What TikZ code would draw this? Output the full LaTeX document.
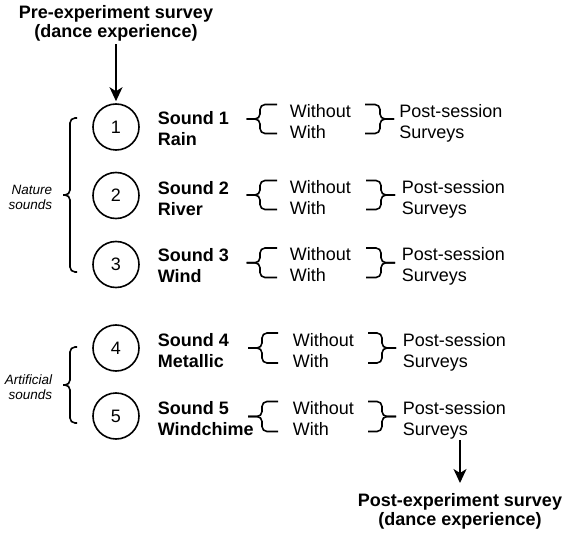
\documentclass[tikz,border=0pt]{standalone}
\usepackage{fontspec}
\setmainfont{Liberation Sans}
\usetikzlibrary{arrows.meta}

% curly bracket: tip x, body x, arm x, top y, bottom y
\newcommand{\curly}[5]{%
  \draw[brk] (#3,#4) -- (#2,#4) -- (#2,{(#4+#5)/2}) -- (#1,{(#4+#5)/2});
  \draw[brk] (#3,#5) -- (#2,#5) -- (#2,{(#4+#5)/2}) -- (#1,{(#4+#5)/2});
}

\begin{document}
\begin{tikzpicture}[x=0.5pt, y=-0.5pt, line width=0.8pt,
  every node/.style={inner sep=0pt},
  txt/.style={font=\fontsize{9}{10.5}\selectfont, align=left, anchor=north west},
  snd/.style={font=\fontsize{9}{10.5}\selectfont\bfseries, align=left, anchor=north west},
  ttl/.style={font=\fontsize{9}{9.5}\selectfont\bfseries, align=center, anchor=north},
  grp/.style={font=\fontsize{6.75}{7.5}\selectfont\itshape, align=right, anchor=east},
  num/.style={draw, circle, minimum size=23pt, font=\fontsize{9}{10.5}\selectfont},
  brk/.style={rounded corners=2.5pt},
  arr/.style={-{Stealth[length=7pt,width=6.5pt,inset=2pt]}}]
  \useasboundingbox (0,0) rectangle (567,534);

  \node[ttl] (pre) at (116,5) {Pre-experiment survey\\(dance experience)};
  \node[ttl] (post) at (460,493) {Post-experiment survey\\(dance experience)};

  \node[num] (c1) at (116,127) {1};
  \node[num] (c2) at (116,195.5) {2};
  \node[num] (c3) at (116,264.5) {3};
  \node[num] (c4) at (116,348) {4};
  \node[num] (c5) at (116,416) {5};

  \node[snd] (s1) at (157,111) {Sound 1\\Rain};
  \node[snd] (s2) at (157,181) {Sound 2\\River};
  \node[snd] (s3) at (157,247.5) {Sound 3\\Wind};
  \node[snd] (s4) at (157,332.5) {Sound 4\\Metallic};
  \node[snd] (s5) at (157,401) {Sound 5\\Windchime};

  \node[txt] (ch1) at (289,104) {Without\\With};
  \node[txt] (ch2) at (289,180) {Without\\With};
  \node[txt] (ch3) at (289,247) {Without\\With};
  \node[txt] (ch4) at (292,332.5) {Without\\With};
  \node[txt] (ch5) at (292,401) {Without\\With};

  \node[txt] (ps1) at (398.5,104) {Post-session\\Surveys};
  \node[txt] (ps2) at (401,180) {Post-session\\Surveys};
  \node[txt] (ps3) at (401,247) {Post-session\\Surveys};
  \node[txt] (ps4) at (402,332.5) {Post-session\\Surveys};
  \node[txt] (ps5) at (402,401) {Post-session\\Surveys};

  \node[grp] (nat) at (53,197) {Nature\\sounds};
  \node[grp] (art) at (53,387) {Artificial\\sounds};

  % brackets
  \curly{63}{70}{77}{118}{272}
  \curly{63}{70}{77}{347}{423}
  \curly{246.5}{260}{277}{104.5}{133.5}
  \curly{246.5}{260}{277}{180.5}{209.5}
  \curly{246.5}{260}{277}{248}{277.5}
  \curly{248}{262}{278}{333}{363}
  \curly{248}{262}{278}{401.5}{431.5}
  \curly{394}{380}{365}{104.5}{133.5}
  \curly{395}{381}{366}{180.5}{209.5}
  \curly{395}{381}{366}{248}{277.5}
  \curly{396}{382}{368}{333}{363}
  \curly{396}{382}{368}{401.5}{431.5}

  \draw[arr, shorten <=1pt, shorten >=1pt] (pre) -- (c1);
  \draw[arr, shorten >=5pt] (ps5.south -| post.north) -- (post.north);
\end{tikzpicture}
\end{document}
